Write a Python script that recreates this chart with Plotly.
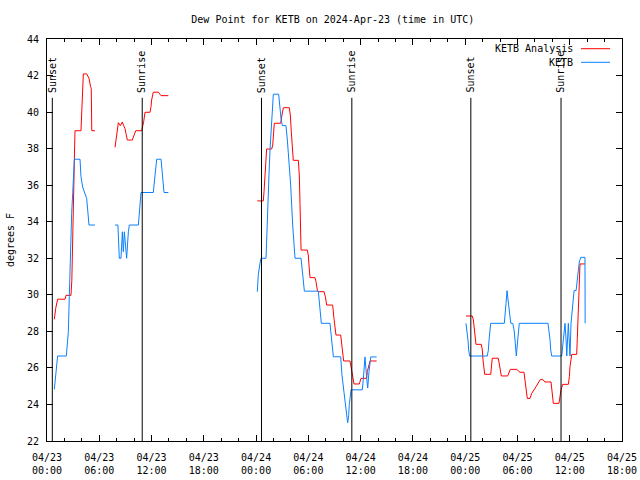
import pandas as pd
import plotly.graph_objects as go

BASE = pd.Timestamp("2024-04-23 00:00")

# ---- KETB Analysis (red), hours since 2024-04-23 00:00 UTC ----
ana_hours = [
    [0.84, 1.0, 1.22, 2.07, 2.18, 2.75, 2.85, 3.0, 3.21, 3.9, 4.05, 4.17, 4.55, 4.82, 5.0, 5.08, 5.14, 5.51],
    [7.81, 7.92, 8.07, 8.19, 8.42, 8.65, 8.8, 8.95, 9.1, 9.22, 9.79, 9.95, 10.18, 10.87, 10.98, 11.1,
     11.25, 11.82, 11.94, 12.01, 12.2, 12.78, 13.09, 13.93],
    [24.14, 24.83, 24.91, 25.06, 25.21, 25.79, 25.91, 26.09, 26.82, 26.97, 27.13, 27.81, 27.93, 28.04,
     28.16, 28.27, 28.85, 28.96, 29.04, 29.16, 29.88, 29.99, 30.07, 30.19, 30.76, 30.88, 31.03, 31.14,
     31.8, 31.95, 32.1, 32.79, 32.94, 33.17, 33.71, 33.86, 34.05, 34.78, 34.97, 35.24, 35.85, 36.04,
     36.7, 36.77, 37.08, 37.84],
    [48.09, 48.82, 48.94, 49.05, 49.17, 49.24, 49.85, 49.97, 50.05, 50.12, 50.24, 50.93, 51.0, 51.11,
     51.8, 51.96, 52.15, 52.88, 53.03, 53.18, 53.91, 54.1, 54.29, 54.75, 54.9, 55.02, 55.13, 55.44,
     55.63, 56.13, 56.59, 56.85, 57.16, 57.85, 57.97, 58.04, 58.12, 58.77, 58.88, 59.0, 59.19, 59.84,
     59.96, 60.03, 60.23, 60.8, 60.87, 60.94, 61.02, 61.1, 61.18, 61.75],
]
ana_vals = [
    [28.66, 29.26, 29.76, 29.76, 29.97, 29.97, 30.8, 35.0, 38.98, 38.98, 40.5, 42.09, 42.09, 41.85,
     41.4, 41.3, 38.98, 38.98],
    [38.07, 38.47, 39.1, 39.42, 39.26, 39.46, 39.26, 39.1, 38.75, 38.47, 38.47, 38.69, 38.98, 38.98,
     39.2, 39.48, 39.99, 39.99, 40.3, 40.66, 41.09, 41.09, 40.9, 40.9],
    [35.14, 35.14, 35.64, 37.0, 37.98, 37.98, 38.2, 39.39, 39.39, 39.84, 40.24, 40.24, 39.84, 38.93,
     37.84, 37.36, 37.36, 36.56, 35.0, 32.45, 32.45, 32.18, 31.63, 30.94, 30.94, 30.72, 30.26, 30.17,
     30.17, 29.9, 29.44, 29.44, 28.71, 27.8, 27.8, 27.25, 26.38, 26.38, 25.8, 25.12, 25.12, 25.43,
     25.43, 25.8, 26.38, 26.38],
    [28.84, 28.84, 28.62, 28.08, 27.53, 27.29, 27.29, 26.98, 26.43, 25.98, 25.65, 25.65, 26.07, 26.53,
     26.53, 26.07, 25.56, 25.56, 25.74, 25.92, 25.92, 25.85, 25.76, 25.76, 25.16, 24.6, 24.33, 24.33,
     24.6, 24.97, 25.34, 25.39, 25.23, 25.23, 24.8, 24.33, 24.06, 24.06, 24.42, 24.8, 25.1, 25.1,
     25.52, 26.07, 26.74, 26.74, 27.62, 28.8, 30.08, 31.17, 31.69, 31.69],
]

# ---- KETB observations (blue) ----
obs_hours = [
    [0.84, 1.0, 1.22, 2.22, 2.45, 2.56, 2.68, 2.83, 2.95, 3.14, 3.79, 3.9, 4.09, 4.28, 4.55, 4.67,
     4.82, 5.51],
    [7.81, 8.14, 8.3, 8.49, 8.65, 8.76, 8.88, 9.14, 9.34, 9.45, 10.49, 10.6, 10.79, 12.2, 12.36,
     12.59, 13.09, 13.24, 13.43, 13.93],
    [24.14, 24.25, 24.45, 24.56, 25.14, 25.21, 25.33, 25.48, 25.6, 25.75, 25.83, 25.98, 26.59, 26.74,
     26.86, 27.01, 27.43, 27.59, 27.81, 27.97, 28.2, 28.35, 28.47, 29.16, 29.31, 29.46, 29.54, 31.14,
     31.34, 31.49, 32.48, 32.64, 32.75, 32.87, 33.71, 33.86, 34.09, 34.25, 34.4, 34.51, 34.63, 34.7,
     34.9, 36.19, 36.31, 36.5, 36.7, 36.81, 36.96, 37.16, 37.84],
    [48.09, 48.21, 48.32, 48.4, 48.51, 50.54, 50.66, 50.74, 50.81, 50.93, 52.49, 52.57, 52.69, 52.8,
     52.95, 53.11, 53.23, 53.46, 53.61, 53.72, 53.8, 53.87, 54.03, 54.14, 54.21, 57.51, 57.62, 57.74,
     57.82, 57.93, 59.08, 59.27, 59.46, 59.58, 59.66, 59.84, 59.96, 60.03, 60.15, 60.34, 60.5, 60.73,
     60.81, 60.96, 61.1, 61.27, 61.75, 61.77],
]
obs_vals = [
    [24.83, 25.7, 26.65, 26.65, 27.98, 29.9, 32.45, 34.46, 35.55, 37.42, 37.42, 36.47, 35.9, 35.6,
     35.28, 34.64, 33.82, 33.82],
    [33.82, 33.82, 32.0, 32.0, 33.45, 32.36, 33.45, 32.0, 33.45, 33.82, 33.82, 34.64, 35.6, 35.6,
     36.47, 37.42, 37.42, 36.47, 35.6, 35.6],
    [30.17, 31.09, 31.73, 32.0, 32.0, 33.18, 34.73, 36.56, 37.93, 39.2, 40.2, 40.98, 40.98, 40.12,
     39.66, 39.26, 39.26, 38.47, 37.1, 36.0, 33.82, 32.73, 32.0, 32.0, 31.09, 30.36, 30.2, 30.2, 29.35,
     28.44, 28.44, 27.62, 27.07, 26.61, 26.61, 25.6, 24.66, 23.97, 23.24, 23.0, 23.4, 24.0, 24.8, 24.8,
     25.4, 26.6, 25.4, 24.9, 25.8, 26.6, 26.6],
    [28.44, 28.08, 27.53, 26.98, 26.65, 26.65, 26.98, 27.53, 28.08, 28.44, 28.44, 28.8, 29.53, 30.23,
     29.53, 28.8, 28.44, 28.44, 28.08, 27.53, 26.98, 26.65, 27.53, 28.08, 28.44, 28.44, 28.08, 27.53,
     26.98, 26.65, 26.65, 27.53, 28.44, 27.53, 26.65, 28.44, 27.53, 26.65, 28.44, 29.6, 30.23, 30.23,
     30.6, 31.3, 31.8, 32.05, 32.05, 28.44],
]

sunset_hours = [0.61, 24.62, 48.65]
sunrise_hours = [10.93, 34.99, 59.0]

tick_hours = [0, 6, 12, 18, 24, 30, 36, 42, 48, 54, 60, 66]
tick_text = ["04/23<br>00:00", "04/23<br>06:00", "04/23<br>12:00", "04/23<br>18:00",
             "04/24<br>00:00", "04/24<br>06:00", "04/24<br>12:00", "04/24<br>18:00",
             "04/25<br>00:00", "04/25<br>06:00", "04/25<br>12:00", "04/25<br>18:00"]

FONT = "DejaVu Sans Mono"
RED = "#ff0000"
BLUE = "#0a80ff"


def t(h):
    return BASE + pd.Timedelta(hours=h)


def join(hours_segs, val_segs):
    xs, ys = [], []
    for hs, vs in zip(hours_segs, val_segs):
        if xs:
            xs.append(None)
            ys.append(None)
        xs += [t(h) for h in hs]
        ys += vs
    return xs, ys


fig = go.Figure()
ax, ay = join(ana_hours, ana_vals)
ox, oy = join(obs_hours, obs_vals)
fig.add_trace(go.Scatter(x=ax, y=ay, mode="lines", line=dict(color=RED, width=1),
                         name="KETB Analysis", connectgaps=False, showlegend=False))
fig.add_trace(go.Scatter(x=ox, y=oy, mode="lines", line=dict(color=BLUE, width=1),
                         name="KETB", connectgaps=False, showlegend=False))

shapes = []
annotations = []
for label, hrs in (("Sunset", sunset_hours), ("Sunrise", sunrise_hours)):
    for h in hrs:
        shapes.append(dict(type="line", xref="x", yref="y", x0=t(h), x1=t(h), y0=22, y1=40.78,
                           line=dict(color="black", width=1), layer="above"))
        annotations.append(dict(x=t(h), y=40.95, xref="x", yref="y", text=label, showarrow=False,
                                textangle=-90, xanchor="center", yanchor="bottom",
                                font=dict(family=FONT, size=10, color="black")))

# legend (gnuplot style: text then line sample)
for i, (name, col) in enumerate((("KETB Analysis", RED), ("KETB", BLUE))):
    ypix = 48.7 + i * 13.6
    yp = (441 - ypix) / 402
    annotations.append(dict(x=(575 - 47) / 575, y=yp, xref="paper", yref="paper", text=name,
                            showarrow=False, xanchor="right", yanchor="middle",
                            font=dict(family=FONT, size=10, color="black")))
    shapes.append(dict(type="line", xref="paper", yref="paper", x0=(581 - 47) / 575,
                       x1=(610 - 47) / 575, y0=yp, y1=yp, line=dict(color=col, width=1)))

fig.update_layout(
    width=640, height=480,
    margin=dict(l=47, r=18, t=39, b=39, autoexpand=False),
    paper_bgcolor="white", plot_bgcolor="white",
    title=dict(text="Dew Point for KETB on 2024-Apr-23 (time in UTC)", x=0.52, xanchor="center",
               y=1 - 19 / 480, yanchor="middle", font=dict(family=FONT, size=10, color="black")),
    font=dict(family=FONT, size=10, color="black"),
    shapes=shapes, annotations=annotations,
    showlegend=False, hovermode=False,
)
fig.update_xaxes(
    type="date", range=[t(0), t(66)], automargin=False,
    tickvals=[t(h) for h in tick_hours], ticktext=tick_text,
    ticks="inside", ticklen=6, tickcolor="black", tickwidth=1,
    minor=dict(tickvals=[t(h) for h in range(0, 67, 2)], ticks="inside", ticklen=3,
               tickcolor="black", tickwidth=1, showgrid=False),
    showline=True, linecolor="black", linewidth=1, mirror="ticks",
    showgrid=False, zeroline=False,
    tickfont=dict(family=FONT, size=10, color="black"),
    ticklabelstandoff=7,
)
fig.update_yaxes(
    range=[22, 44], dtick=2, tick0=22, automargin=False,
    ticks="inside", ticklen=6, tickcolor="black", tickwidth=1,
    showline=True, linecolor="black", linewidth=1, mirror="ticks",
    showgrid=False, zeroline=False,
    tickfont=dict(family=FONT, size=10, color="black"),
    ticklabelstandoff=5,
    title=dict(text="degrees F", standoff=10, font=dict(family=FONT, size=10, color="black")),
)

fig.write_html("out.html", config={"displayModeBar": False, "staticPlot": True},
               post_script="document.body.style.margin='0px';document.body.style.overflow='hidden';")
